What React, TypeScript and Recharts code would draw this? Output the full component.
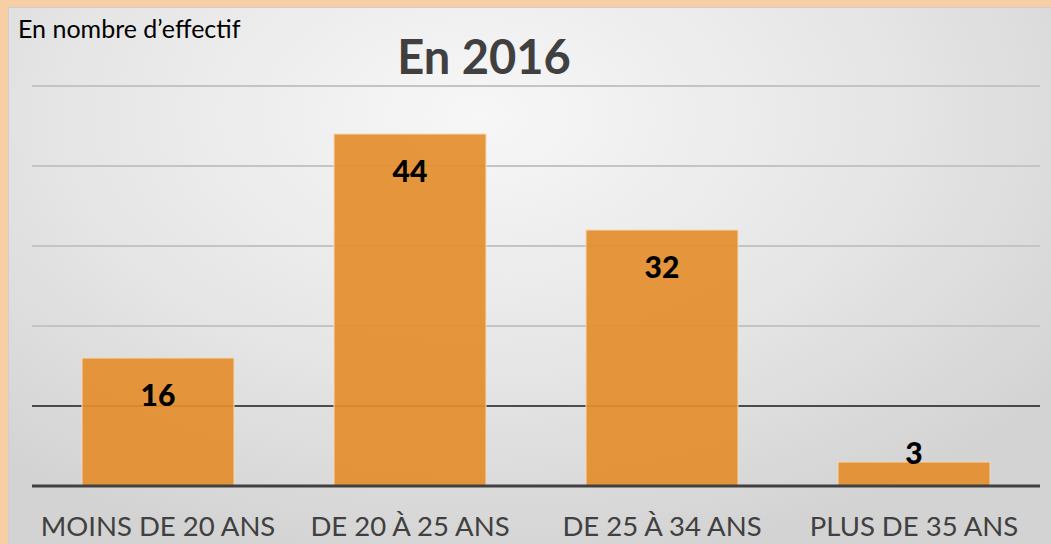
import { BarChart, Bar, XAxis, YAxis, CartesianGrid, LabelList } from 'recharts';

const categories = ['MOINS DE 20 ANS', 'DE 20 À 25 ANS', 'DE 25 À 34 ANS', 'PLUS DE 35 ANS'];
const effectifs = [16, 44, 32, 3];
const yTicks = [0, 10, 20, 30, 40, 50];

const data = categories.map((name, i) => ({ name, value: effectifs[i] }));

const FONT = 'Lato, "Open Sans", sans-serif';

// label sits inside the bar near the top, or just above it when the bar is too short
function ValueLabel(props: any) {
  const { x, y, width, height, value } = props;
  const cy = height > 50 ? y + 36 : y - 10;
  return (
    <text
      x={x + width / 2}
      y={cy}
      textAnchor="middle"
      dominantBaseline="central"
      fontFamily={FONT}
      fontWeight={900}
      fontSize={30}
      fill="#000"
    >
      {value}
    </text>
  );
}

export default function App() {
  return (
    <div style={{ position: 'absolute', left: 0, top: 0, width: 1051, height: 544, background: '#f8cfa5', overflow: 'hidden' }}>
      <div
        style={{
          position: 'absolute',
          left: 8,
          top: 7,
          width: 1043,
          height: 537,
          background: 'radial-gradient(ellipse 70% 85% at 45% 20%, #f7f7f7 0%, #e6e6e6 55%, #d3d3d3 100%)',
          borderTop: '1px solid #cfcfcf',
          borderLeft: '1px solid #cfcfcf',
          boxSizing: 'border-box',
        }}
      />
      <div style={{ position: 'absolute', left: 18, top: 13, fontFamily: FONT, fontSize: 25, lineHeight: '30px', color: '#000' }}>
        En nombre d’effectif
      </div>
      <div
        style={{
          position: 'absolute',
          left: 0,
          width: 968,
          top: 28,
          textAlign: 'center',
          fontFamily: FONT,
          fontWeight: 700,
          fontSize: 47,
          color: '#404040',
          lineHeight: '56px',
        }}
      >
        En 2016
      </div>
      <div style={{ position: 'absolute', left: 0, top: 0 }}>
        <BarChart width={1051} height={544} data={data} margin={{ top: 86, right: 11, left: 32, bottom: 0 }} barSize={152}>
          <CartesianGrid vertical={false} horizontalValues={[20, 30, 40, 50]} stroke="#c4c4c4" strokeWidth={2} />
          <CartesianGrid vertical={false} horizontalValues={[10]} stroke="#1a1a1a" strokeWidth={1.5} />
          <YAxis hide domain={[0, 50]} ticks={yTicks} />
          <XAxis
            dataKey="name"
            height={58}
            axisLine={{ stroke: '#404040', strokeWidth: 3 }}
            tickLine={false}
            tickMargin={24}
            tick={{ fontFamily: FONT, fontSize: 27.5, fill: '#404040' }}
            interval={0}
          />
          <Bar dataKey="value" fill="#e48d2c" fillOpacity={0.92} stroke="#f5d9b8" strokeWidth={1} isAnimationActive={false}>
            <LabelList dataKey="value" content={ValueLabel} />
          </Bar>
        </BarChart>
      </div>
    </div>
  );
}
